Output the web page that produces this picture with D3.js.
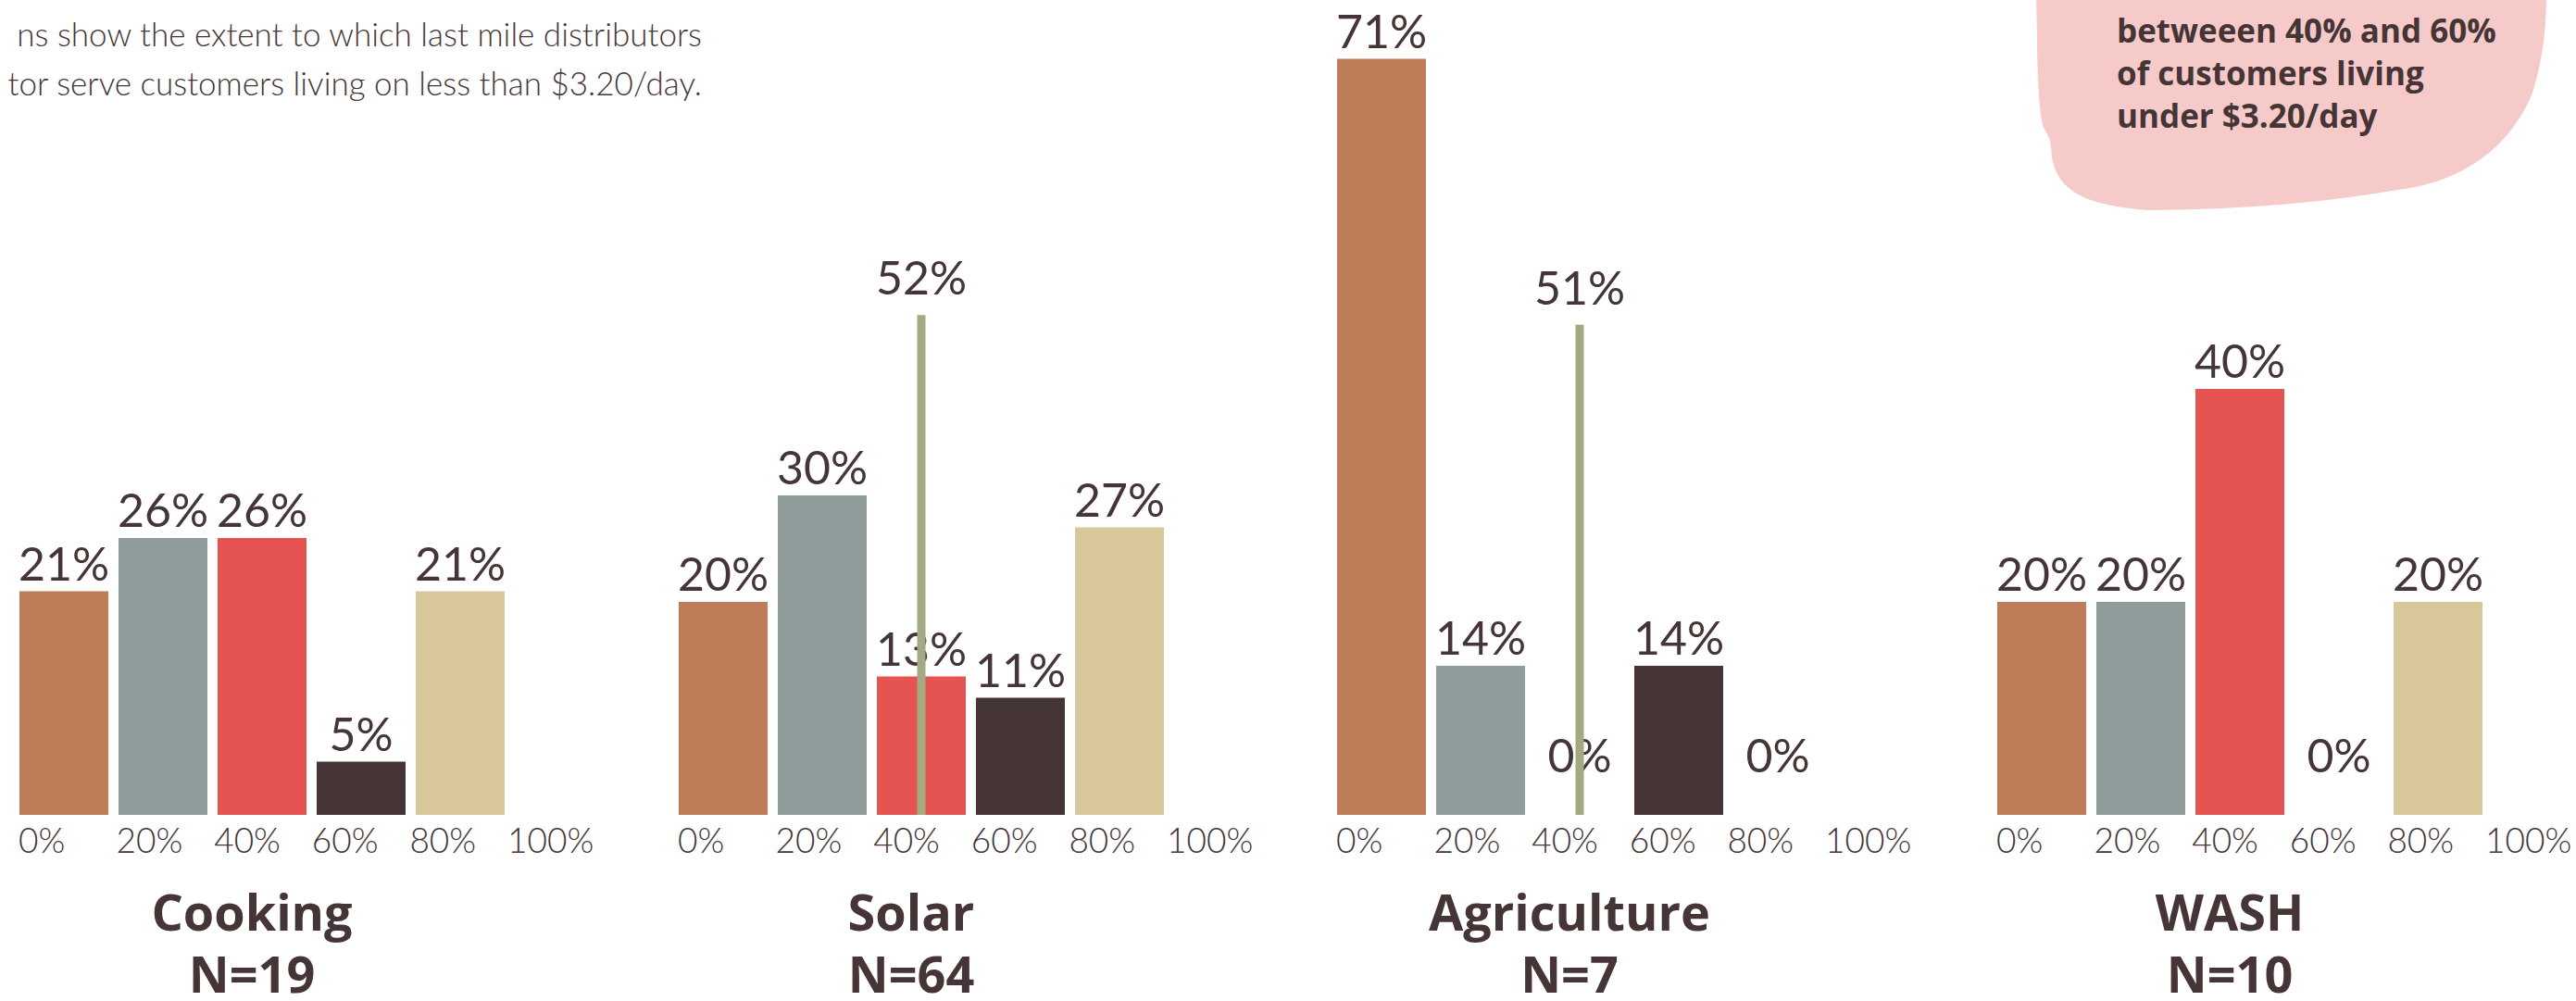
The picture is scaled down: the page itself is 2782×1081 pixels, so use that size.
<!DOCTYPE html>
<html>
<head>
<meta charset="utf-8">
<script src="https://cdn.jsdelivr.net/npm/d3@7"></script>
<style>
  html, body { margin: 0; padding: 0; background: #fff; overflow: hidden; }
</style>
</head>
<body>
<div id="bins-chart"></div>
<script>
// Bins chart

// Data
const bins = ["0%", "20%", "40%", "60%", "80%"];
const tickLabels = [0, 20, 40, 60, 80, 100];
const sectors = ["Cooking", "Solar", "Agriculture", "WASH"];
const sampleSizes = [19, 64, 7, 10];
const cookingShares = [21, 26, 26, 5, 21];
const solarShares = [20, 30, 13, 11, 27];
const agricultureShares = [71, 14, 0, 14, 0];
const washShares = [20, 20, 40, 0, 20];
// green marker line, only for Solar and Agriculture
const markerShares = [null, 52, 51, null];

const introLines = [
  "ns show the extent to which last mile distributors",
  "tor serve customers living on less than $3.20/day.",
];
const noteLines = ["betweeen 40% and 60%", "of customers living", "under $3.20/day"];

const binColors = ["#BF7C59", "#909C9B", "#E55451", "#463537", "#D9C79C"];
const ink = "#453536";
const markerColor = "#A3AA82";
const noteColor = "#F7CACA";

var width = 2782;
var height = 1081;
var baseY = 880;
var panelLefts = [21, 733, 1444, 2157];

var svg = d3
  .select("#bins-chart")
  .append("svg")
  .attr("width", width)
  .attr("height", height);

////////////////////////////////
// Scales
var x = d3.scaleBand().domain(bins).range([0, 524]).paddingInner(0.103).paddingOuter(0).align(0);
var xTick = d3.scaleLinear().domain([0, 100]).range([0, 528]);
var y = d3.scaleLinear().domain([0, 100]).range([baseY, baseY - 1150]);
// the marker line is drawn on its own, shorter scale
var yMarker = d3.scaleLinear().domain([0, 100]).range([baseY, baseY - 1038]);

////////////////////////////////
// Intro text (top left, clipped at the page edge)
svg
  .append("g")
  .selectAll("text")
  .data(introLines)
  .enter()
  .append("text")
  .attr("x", 758)
  .attr("y", function (d, i) {
    return 50 + i * 53;
  })
  .attr("text-anchor", "end")
  .attr("fill", ink)
  .style("font-family", "Lato, sans-serif")
  .style("font-weight", 300)
  .style("font-size", "35px")
  .text(function (d) {
    return d;
  });

////////////////////////////////
// Pink note blob (top right)
svg
  .append("path")
  .attr("fill", noteColor)
  .attr(
    "d",
    "M2199,-5 L2200,40 C2200,90 2203,125 2207,138 C2213,148 2215,150 2216,170 " +
      "C2222,205 2250,222 2320,227 C2420,226 2500,220 2590,205 " +
      "C2670,195 2715,150 2735,100 C2748,60 2750,20 2750,-5 Z"
  );

svg
  .append("g")
  .selectAll("text")
  .data(noteLines)
  .enter()
  .append("text")
  .attr("x", 2286)
  .attr("y", function (d, i) {
    return 46 + i * 46;
  })
  .attr("fill", ink)
  .style("font-family", "'Open Sans', sans-serif")
  .style("font-weight", 700)
  .style("font-size", "35px")
  .text(function (d) {
    return d;
  });

////////////////////////////////
// One panel per sector
var shares = [cookingShares, solarShares, agricultureShares, washShares];

sectors.forEach(function (sector, s) {
  var g = svg.append("g").attr("transform", "translate(" + panelLefts[s] + ",0)");
  var rows = bins.map(function (b, i) {
    return { bin: b, value: shares[s][i], color: binColors[i] };
  });

  // bars
  g.selectAll("rect")
    .data(rows)
    .enter()
    .append("rect")
    .attr("x", function (d) {
      return x(d.bin);
    })
    .attr("y", function (d) {
      return y(d.value);
    })
    .attr("width", x.bandwidth())
    .attr("height", function (d) {
      return y(0) - y(d.value);
    })
    .attr("fill", function (d) {
      return d.color;
    });

  // value labels
  g.selectAll(".value")
    .data(rows)
    .enter()
    .append("text")
    .attr("class", "value")
    .attr("x", function (d) {
      return x(d.bin) + x.bandwidth() / 2;
    })
    .attr("y", function (d) {
      return Math.min(y(d.value) - 12, y(0) - 46);
    })
    .attr("text-anchor", "middle")
    .attr("fill", ink)
    .style("font-family", "Lato, sans-serif")
    .style("font-size", "50px")
    .text(function (d) {
      return d.value + "%";
    });

  // tick labels under the bars
  g.selectAll(".tick")
    .data(tickLabels)
    .enter()
    .append("text")
    .attr("class", "tick")
    .attr("x", function (d) {
      return xTick(d) - 1;
    })
    .attr("y", 921)
    .attr("fill", ink)
    .style("font-family", "Lato, sans-serif")
    .style("font-weight", 300)
    .style("font-size", "37px")
    .text(function (d) {
      return d + "%";
    });

  // green marker line
  if (markerShares[s] != null) {
    var mx = x("40%") + x.bandwidth() / 2;
    g.append("rect")
      .attr("x", mx - 4.5)
      .attr("y", yMarker(markerShares[s]))
      .attr("width", 9)
      .attr("height", yMarker(0) - yMarker(markerShares[s]))
      .attr("fill", markerColor);
    g.append("text")
      .attr("x", mx)
      .attr("y", yMarker(markerShares[s]) - 22)
      .attr("text-anchor", "middle")
      .attr("fill", ink)
      .style("font-family", "Lato, sans-serif")
      .style("font-size", "50px")
      .text(markerShares[s] + "%");
  }

  // sector title and N
  var titleFont = function (t) {
    t.attr("x", 251)
      .attr("text-anchor", "middle")
      .attr("fill", ink)
      .style("font-family", "'Open Sans', sans-serif")
      .style("font-weight", 700)
      .style("font-size", "54px");
  };
  g.append("text").call(titleFont).attr("y", 1005).text(sector);
  g.append("text").call(titleFont).attr("y", 1072).text("N=" + sampleSizes[s]);
});
</script>
</body>
</html>
